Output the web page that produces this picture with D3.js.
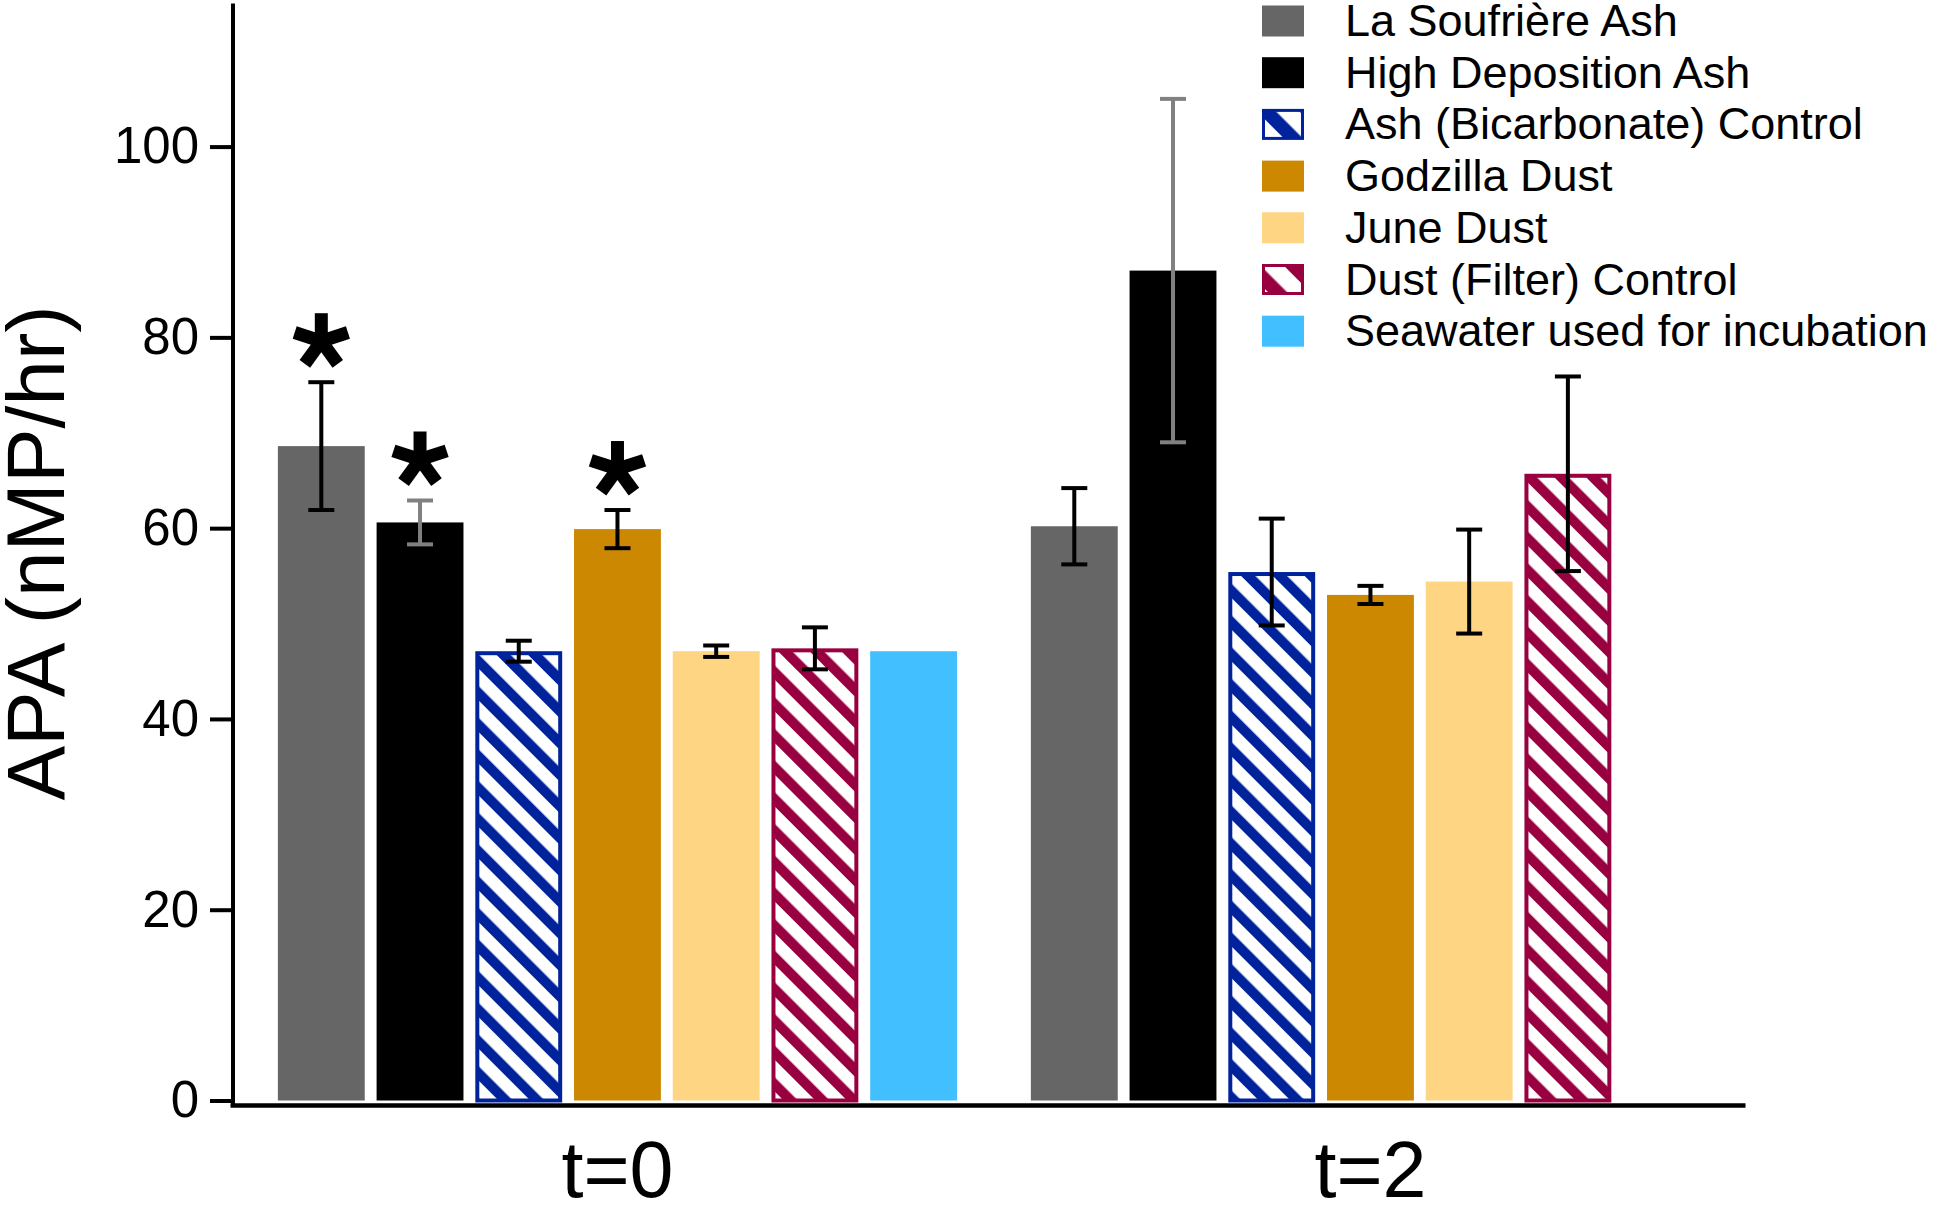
<!DOCTYPE html>
<html lang="en">
<head>
    <meta charset="UTF-8">
    <title>APA bar chart</title>
    <script src="https://d3js.org/d3.v7.min.js"></script>
    <style>
        body { margin: 0; background: #fff; }
        svg { font-family: "Liberation Sans", Arial, Helvetica, sans-serif; }
    </style>
</head>
<body>
    <svg width="1937" height="1205"></svg>

    <script>
        // data
        var timepoints = ["t=0", "t=2"];
        var seriesNames = ["La Soufrière Ash", "High Deposition Ash", "Ash (Bicarbonate) Control",
                           "Godzilla Dust", "June Dust", "Dust (Filter) Control", "Seawater used for incubation"];
        var seriesColors = ["#666666", "#000000", "#00239c", "#cc8800", "#fdd583", "#990040", "#42bfff"];
        var seriesHatched = [false, false, true, false, false, true, false];
        var meansT0 = [68.6, 60.6, 47.1, 59.9, 47.1, 47.4, 47.1];
        var errorsT0 = [6.7, 2.3, 1.1, 2.0, 0.6, 2.2, null];
        var meansT2 = [60.2, 87.0, 55.4, 53.0, 54.4, 65.7, null];
        var errorsT2 = [4.0, 18.0, 5.6, 0.95, 5.45, 10.2, null];
        var starsT0 = [true, true, false, true, false, false, false];
        var starsT2 = [false, false, false, false, false, false, false];
        var yTicks = [0, 20, 40, 60, 80, 100];

        var svg = d3.select("svg");

        // flatten into one row per bar
        var rows = [];
        [[meansT0, errorsT0, starsT0], [meansT2, errorsT2, starsT2]].forEach(function(set, gi) {
            seriesNames.forEach(function(name, si) {
                if (set[0][si] == null) return;
                rows.push({ group: timepoints[gi], series: si, value: set[0][si], err: set[1][si], star: set[2][si] });
            });
        });

        // scales
        var y = d3.scaleLinear().domain([0, 115]).range([1100.5, 3.5]);
        var x0 = d3.scaleBand().domain(timepoints).range([230, 1745])
                   .paddingInner(0.098).paddingOuter(0.055).align(0.578);
        var x1 = d3.scaleBand().domain(d3.range(seriesNames.length)).range([0, x0.bandwidth()])
                   .paddingInner(0.12);

        // hatch patterns (white background, coloured diagonal stripes)
        var defs = svg.append("defs");
        function makeHatch(id, color, size) {
            var p = defs.append("pattern")
                .attr("id", id)
                .attr("patternUnits", "userSpaceOnUse")
                .attr("width", size).attr("height", size)
                .attr("patternTransform", "rotate(-45)");
            p.append("rect").attr("width", size).attr("height", size).attr("fill", "#fff");
            p.append("rect").attr("width", size * 0.45).attr("height", size).attr("fill", color);
        }
        seriesNames.forEach(function(n, i) {
            if (seriesHatched[i]) {
                makeHatch("hatch" + i, seriesColors[i], 22.4);
                makeHatch("lhatch" + i, seriesColors[i], 30);
            }
        });

        // bars
        var bars = svg.append("g");
        rows.forEach(function(d) {
            var bx = x0(d.group) + x1(d.series);
            var bw = x1.bandwidth();
            if (seriesHatched[d.series]) {
                bars.append("rect")
                    .attr("x", bx + 2).attr("y", y(d.value) + 2)
                    .attr("width", bw - 4).attr("height", y(0) - y(d.value) - 2)
                    .attr("fill", "url(#hatch" + d.series + ")")
                    .attr("stroke", seriesColors[d.series])
                    .attr("stroke-width", 4);
            } else {
                bars.append("rect")
                    .attr("x", bx).attr("y", y(d.value))
                    .attr("width", bw).attr("height", y(0) - y(d.value))
                    .attr("fill", seriesColors[d.series]);
            }
        });

        // error bars
        var errG = svg.append("g").attr("stroke-width", 4).attr("fill", "none");
        rows.filter(function(d) { return d.err != null; }).forEach(function(d) {
            var cx = x0(d.group) + x1(d.series) + x1.bandwidth() / 2;
            var col = d.series === 1 ? "#808080" : "#000";
            var top = y(d.value + d.err), bot = y(d.value - d.err);
            errG.append("line").attr("x1", cx).attr("x2", cx).attr("y1", top).attr("y2", bot).attr("stroke", col);
            errG.append("line").attr("x1", cx - 13).attr("x2", cx + 13).attr("y1", top).attr("y2", top).attr("stroke", col);
            errG.append("line").attr("x1", cx - 13).attr("x2", cx + 13).attr("y1", bot).attr("y2", bot).attr("stroke", col);
        });

        // significance asterisks (five arms)
        var starG = svg.append("g");
        rows.filter(function(d) { return d.star; }).forEach(function(d) {
            var cx = x0(d.group) + x1(d.series) + x1.bandwidth() / 2;
            var cy = y(d.value + d.err) - 41;
            [90, 18, 162, -54, -126].forEach(function(a) {
                var r = a * Math.PI / 180;
                starG.append("line")
                    .attr("x1", cx).attr("y1", cy)
                    .attr("x2", cx + 28 * Math.cos(r)).attr("y2", cy - 28 * Math.sin(r))
                    .attr("stroke", "#000").attr("stroke-width", 13);
            });
        });

        // y axis
        var yAxis = svg.append("g")
            .attr("transform", "translate(233,0)")
            .call(d3.axisLeft(y).tickValues(yTicks).tickSize(23).tickPadding(11).tickSizeOuter(0));
        yAxis.select(".domain").remove();
        yAxis.selectAll(".tick line").attr("stroke-width", 4);
        yAxis.selectAll(".tick text").attr("font-size", 51).attr("font-family", null).attr("fill", "#000");
        svg.append("line")
            .attr("x1", 233).attr("x2", 233).attr("y1", y(115)).attr("y2", 1107)
            .attr("stroke", "#000").attr("stroke-width", 4);

        // x axis
        var xAxis = svg.append("g")
            .attr("transform", "translate(0,1105)")
            .call(d3.axisBottom(x0).tickSize(0).tickSizeOuter(0).tickPadding(36));
        xAxis.select(".domain").attr("stroke-width", 4.5);
        xAxis.selectAll(".tick text").attr("font-size", 79).attr("font-family", null).attr("fill", "#000");

        // y title
        svg.append("text")
            .attr("transform", "translate(64,553) rotate(-90)")
            .attr("text-anchor", "middle")
            .attr("font-size", 82)
            .text("APA (nMP/hr)");

        // legend
        var legend = svg.append("g");
        seriesNames.forEach(function(name, i) {
            var cy = 21 + 51.7 * i;
            if (seriesHatched[i]) {
                legend.append("rect")
                    .attr("x", 1263.5).attr("y", cy - 14)
                    .attr("width", 39).attr("height", 28)
                    .attr("fill", "url(#lhatch" + i + ")")
                    .attr("stroke", seriesColors[i]).attr("stroke-width", 3);
            } else {
                legend.append("rect")
                    .attr("x", 1262).attr("y", cy - 15.5)
                    .attr("width", 42).attr("height", 31)
                    .attr("fill", seriesColors[i]);
            }
            legend.append("text")
                .attr("x", 1345).attr("y", cy + 15)
                .attr("font-size", 45)
                .text(name);
        });
    </script>
</body>
</html>
